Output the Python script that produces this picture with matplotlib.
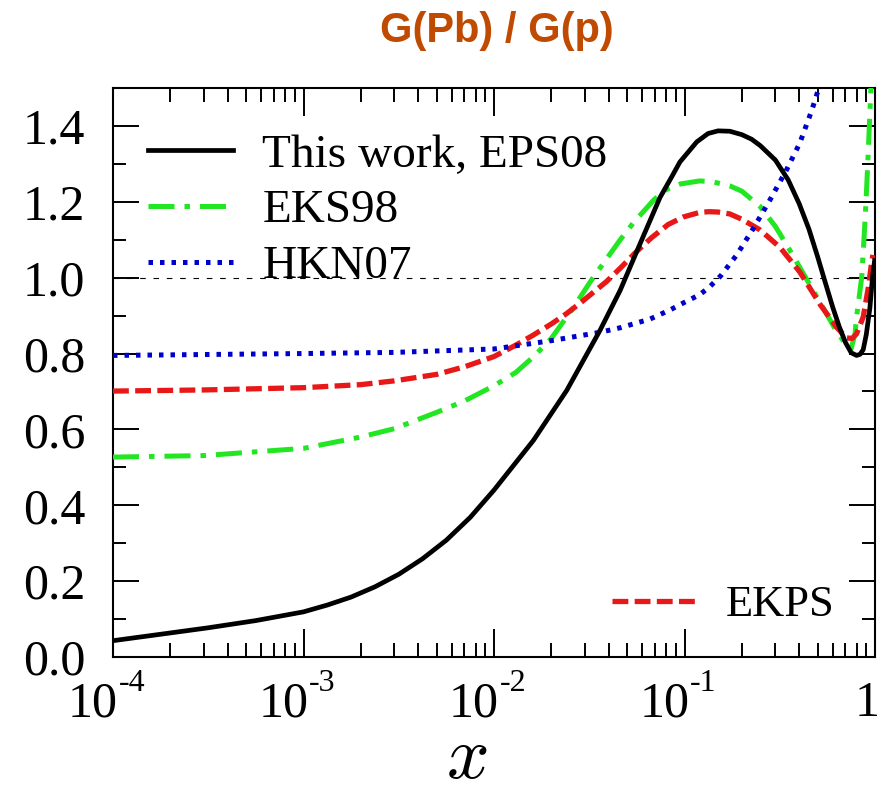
import matplotlib
matplotlib.use("Agg")
import matplotlib.pyplot as plt
from matplotlib.ticker import FixedLocator, LogLocator, NullFormatter, MultipleLocator, FixedFormatter
from matplotlib.transforms import blended_transform_factory, offset_copy

plt.rcParams['font.family'] = ['Liberation Serif', 'DejaVu Serif']

# ---- data ----
eps08_x = [1e-4, 1.78e-4, 3.16e-4, 5.62e-4, 1e-3, 1.334e-3, 1.778e-3, 2.371e-3, 3.162e-3,
           4.217e-3, 5.623e-3, 7.499e-3, 1e-2, 1.61e-2, 2.41e-2, 3.6e-2, 4.59e-2, 5.84e-2,
           7.43e-2, 8.66e-2, 0.0946, 0.116, 0.133, 0.15, 0.173, 0.2, 0.225, 0.25, 0.30, 0.35,
           0.40, 0.45, 0.50, 0.55, 0.60, 0.65, 0.70, 0.75, 0.80, 0.835, 0.867, 0.90, 0.94,
           0.97, 0.995]
eps08_y = [0.043, 0.060, 0.077, 0.096, 0.119, 0.137, 0.158, 0.185, 0.218,
           0.259, 0.308, 0.368, 0.440, 0.571, 0.703, 0.861, 0.966, 1.089,
           1.211, 1.270, 1.305, 1.358, 1.380, 1.387, 1.386, 1.377, 1.365, 1.348, 1.310, 1.258,
           1.195, 1.128, 1.055, 0.985, 0.922, 0.870, 0.829, 0.802, 0.795, 0.798, 0.810, 0.850, 0.920,
           1.000, 1.045]

eks98_x = [1e-4, 3e-4, 1e-3, 2e-3, 3e-3, 5e-3, 7e-3, 1e-2, 1.3e-2, 1.6e-2, 2e-2, 2.6e-2,
           3.26e-2, 4.6e-2, 5.4e-2, 6.9e-2, 8e-2, 9.5e-2, 0.12, 0.14, 0.173, 0.2, 0.249, 0.30,
           0.35, 0.403, 0.514, 0.629, 0.70, 0.749, 0.786, 0.80, 0.851, 0.875, 0.897, 0.916,
           0.934, 0.952, 0.97]
eks98_y = [0.527, 0.531, 0.550, 0.580, 0.602, 0.645, 0.675, 0.715, 0.750, 0.790, 0.840, 0.920,
           0.995, 1.100, 1.145, 1.205, 1.232, 1.247, 1.255, 1.253, 1.242, 1.228, 1.188, 1.135,
           1.080, 1.027, 0.935, 0.858, 0.826, 0.812, 0.853, 0.895, 1.000, 1.100, 1.200, 1.300,
           1.400, 1.500, 1.600]

hkn07_x = [1e-4, 1e-3, 3e-3, 1e-2, 2e-2, 3.6e-2, 4.6e-2, 6.6e-2, 8.4e-2, 0.1, 0.12, 0.135,
           0.155, 0.188, 0.23, 0.281, 0.344, 0.403, 0.465, 0.50, 0.55]
hkn07_y = [0.795, 0.800, 0.803, 0.812, 0.834, 0.856, 0.868, 0.891, 0.915, 0.935, 0.955, 0.975,
           1.005, 1.060, 1.130, 1.205, 1.285, 1.355, 1.440, 1.490, 1.570]

ekps_x = [1e-4, 3e-4, 1e-3, 2e-3, 3e-3, 5e-3, 7e-3, 1e-2, 1.3e-2, 1.6e-2, 2e-2, 2.4e-2, 2.9e-2,
          3.9e-2, 4.6e-2, 5.5e-2, 6.7e-2, 8.2e-2, 0.0986, 0.12, 0.135, 0.15, 0.173, 0.2, 0.249,
          0.317, 0.403, 0.514, 0.629, 0.71, 0.76, 0.80, 0.867, 0.923, 0.96, 0.975]
ekps_y = [0.701, 0.704, 0.710, 0.718, 0.728, 0.745, 0.765, 0.792, 0.822, 0.848, 0.878, 0.905, 0.937,
          0.990, 1.025, 1.065, 1.105, 1.140, 1.160, 1.172, 1.174, 1.173, 1.168, 1.154, 1.126,
          1.080, 1.015, 0.930, 0.869, 0.841, 0.840, 0.852, 0.896, 0.975, 1.040, 1.060]

x_major = [1e-4, 1e-3, 1e-2, 1e-1, 1]
x_bases = ['10', '10', '10', '10', '1']
x_exps = ['-4', '-3', '-2', '-1', '']
y_major = [0.0, 0.2, 0.4, 0.6, 0.8, 1.0, 1.2, 1.4]
y_labels = ['0.0', '0.2', '0.4', '0.6', '0.8', '1.0', '1.2', '1.4']

title = 'G(Pb) / G(p)'

# ---- figure ----
fig = plt.figure(figsize=(8.81, 7.95), dpi=100)
ax = fig.add_axes([113 / 881, 138 / 795, 762 / 881, 569 / 795])
ax.set_xscale('log')
ax.set_xlim(1e-4, 1)
ax.set_ylim(0, 1.5)

ax.axhline(1.0, color='black', lw=0.8, dashes=(5, 7), zorder=1)

l_eks, = ax.plot(eks98_x, eks98_y, color='#22E622', lw=3.6, dashes=(5.2, 2.0, 1.1, 2.0),
                 label='EKS98', zorder=3)
l_ekps, = ax.plot(ekps_x, ekps_y, color='#E81818', lw=3.8, dashes=(3.0, 1.2),
                  label='EKPS', zorder=3)
l_hkn, = ax.plot(hkn07_x, hkn07_y, color='#0000CC', lw=3.6, dashes=(0.9, 1.4),
                 label='HKN07', zorder=3)
l_eps, = ax.plot(eps08_x, eps08_y, color='black', lw=3.4, label='This work, EPS08', zorder=4)

ax.xaxis.set_major_locator(FixedLocator(x_major))
ax.xaxis.set_minor_locator(LogLocator(base=10, subs=range(2, 10), numticks=20))
ax.xaxis.set_minor_formatter(NullFormatter())
ax.yaxis.set_major_locator(FixedLocator(y_major))
ax.yaxis.set_major_formatter(FixedFormatter(y_labels))
ax.yaxis.set_minor_locator(MultipleLocator(0.1))

ax.tick_params(which='both', direction='in', top=True, right=True, width=1.4)
ax.tick_params(axis='x', which='major', length=20, labelbottom=False)
ax.tick_params(axis='x', which='minor', length=10)
ax.tick_params(axis='y', which='major', length=19, labelsize=36, pad=20)
ax.tick_params(axis='y', which='minor', length=9.5)
for s in ax.spines.values():
    s.set_linewidth(1.5)

# x tick labels: base and raised exponent
trans = blended_transform_factory(ax.transData, ax.transAxes)
for xv, base, ex in zip(x_major, x_bases, x_exps):
    if ex:
        tb = offset_copy(trans, fig=fig, x=3.5, y=-34, units='points')
        ax.text(xv, 0, base, transform=tb, ha='right', va='center', fontsize=36)
        te = offset_copy(trans, fig=fig, x=4, y=-19, units='points')
        ax.text(xv, 0, ex, transform=te, ha='left', va='center', fontsize=23)
    else:
        tb = offset_copy(trans, fig=fig, x=-6, y=-34, units='points')
        ax.text(xv, 0, base, transform=tb, ha='center', va='center', fontsize=36)

ax.set_xlabel('$x$', fontsize=54, math_fontfamily='cm')
ax.xaxis.label.set_va('center')
ax.xaxis.set_label_coords((467 - 113) / 762, (657 - 760) / 569)

leg1 = ax.legend(handles=[l_eps, l_eks, l_hkn], loc='upper left',
                 bbox_to_anchor=(0.046, 0.92), frameon=False, fontsize=34,
                 handlelength=1.8, handletextpad=0.62, labelspacing=0.27,
                 borderpad=0, borderaxespad=0)
ax.add_artist(leg1)
ax.legend(handles=[l_ekps], loc='center left', bbox_to_anchor=(0.655, 0.091),
          frameon=False, fontsize=32, handlelength=1.9, handletextpad=0.65,
          borderpad=0, borderaxespad=0)

fig.text(497 / 881, 1 - 31 / 795, title, ha='center', va='center', fontsize=30,
         fontweight='bold', color='#BF4A00', family=['Liberation Sans', 'DejaVu Sans'])

fig.savefig('out.png', dpi=100)
